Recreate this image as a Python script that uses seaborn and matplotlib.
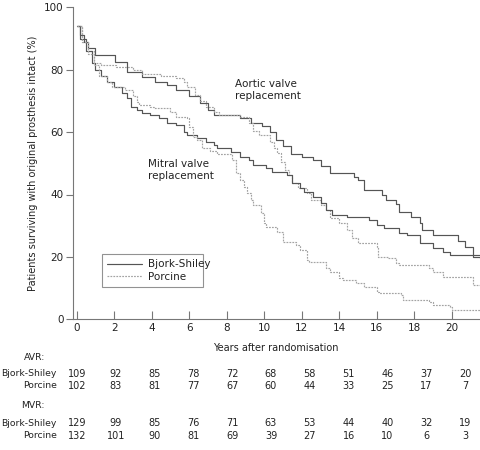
import pandas as pd
import matplotlib
matplotlib.use("Agg")
import matplotlib.pyplot as plt
import seaborn as sns

# Kaplan-Meier estimates: (years, % surviving with prosthesis intact)
avr_bs_t = [0, 0.2, 0.4, 0.6, 1.0, 2.05, 2.7, 3.5, 4.2, 4.8, 5.3, 6.0, 6.6, 7.0, 7.3, 8.7, 9.3,
            9.9, 10.3, 10.6, 11.0, 11.4, 12.0, 12.6, 13.0, 13.5, 14.8, 15.0, 15.3, 16.3, 16.5,
            17.0, 17.2, 17.8, 18.3, 18.4, 19.0, 20.3, 20.7, 21.1, 21.5]
avr_bs_s = [94, 91, 89, 87, 84.7, 82.5, 79.2, 77.6, 76, 75, 73.5, 71.5, 69.3, 67, 65.5, 64.5, 63,
            62, 60, 57.4, 55.5, 53, 52, 51, 49, 47, 45.6, 44.6, 41.4, 39.8, 38.2,
            37, 34.4, 32.8, 30.8, 28.6, 27, 25, 23.2, 20, 19.6]

avr_pc_t = [0, 0.3, 0.6, 0.9, 1.3, 2.1, 3.0, 3.5, 4.5, 5.3, 5.7, 5.9, 6.3, 6.6, 6.9, 7.3, 7.6,
            8.7, 9.2, 9.4, 9.7, 10.3, 10.5, 10.7, 10.9, 11.1, 11.3, 11.5, 11.8, 12.3, 12.5, 13.0,
            13.3, 13.5, 14.0, 14.4, 14.7, 15.0, 16.0, 16.05, 16.6, 17.0, 17.2, 18.8, 19.0, 19.5,
            21.1, 21.5]
avr_pc_s = [94, 89, 86, 82, 81.5, 80.8, 80, 78.5, 78, 77.5, 76, 74.5, 72, 70, 68, 66.5, 65.5,
            64.8, 63, 60.5, 59, 56.8, 55, 53.3, 50.5, 48, 46.3, 43.7, 42, 40.5, 38.2, 36.5,
            35, 32.5, 31, 28.6, 26, 24.6, 23.2, 20, 19.6, 18, 17.4, 16.4, 15.2, 13.6,
            11, 11]

mvr_bs_t = [0, 0.2, 0.5, 0.8, 1.0, 1.3, 1.6, 2.0, 2.4, 2.7, 2.9, 3.2, 3.5, 3.9, 4.4, 4.8, 5.3,
            5.7, 5.9, 6.4, 6.9, 7.3, 7.5, 8.2, 8.7, 9.2, 9.4, 10.1, 10.4, 11.2, 11.5, 11.9, 12.1,
            12.6, 13.0, 13.3, 13.6, 14.4, 15.6, 16.0, 16.4, 17.2, 17.6, 18.3, 19.0, 19.5, 19.9,
            21.5]
mvr_bs_s = [94, 90, 86, 82, 80, 78, 76, 74.5, 72.5, 71, 68, 67, 66, 65.5, 64.5, 63, 62.3,
            60, 59, 58, 56.8, 55.8, 55, 53.6, 52, 51, 49.5, 48.5, 47.2, 46.2, 43.7, 42.1, 40.8,
            39.2, 37.3, 35, 33.4, 32.8, 31.8, 30.2, 29.3, 27.6, 27, 24.4, 22.9, 21.6, 20.6,
            20.6]

mvr_pc_t = [0, 0.3, 0.6, 0.9, 1.2, 1.6, 1.9, 2.6, 3.0, 3.2, 3.3, 3.9, 4.1, 5.0, 5.3, 5.9, 6.0,
            6.2, 6.4, 6.7, 7.1, 7.5, 8.3, 8.5, 8.7, 8.9, 9.1, 9.3, 9.4, 9.8, 10.0, 10.1, 10.7,
            11.0, 11.7, 11.9, 12.3, 12.4, 13.3, 13.5, 14.0, 14.2, 14.9, 15.3, 16.0, 16.1, 17.3,
            17.4, 18.8, 19.0, 19.9, 20.0, 21.5]
mvr_pc_s = [94, 89, 85, 81.5, 78, 76, 74.4, 73.5, 71.5, 69.6, 68.7, 68, 67.7, 66.5, 65, 64.5, 61.5,
            58.4, 57.5, 55, 54, 53, 51, 47, 44.6, 42.4, 40.5, 38.2, 36.6, 34, 30.8, 29.6, 28,
            24.8, 23.8, 22.2, 19, 18.4, 16.4, 15.2, 13.2, 12.6, 11.6, 10.3, 8.8, 8.4, 7.8,
            6.2, 5.5, 4.6, 4, 3, 3]

# numbers at risk
risk_years = [0, 2, 4, 6, 8, 10, 12, 14, 16, 18, 20]
avr_bs_n = [109, 92, 85, 78, 72, 68, 58, 51, 46, 37, 20]
avr_pc_n = [102, 83, 81, 77, 67, 60, 44, 33, 25, 17, 7]
mvr_bs_n = [129, 99, 85, 76, 71, 63, 53, 44, 40, 32, 19]
mvr_pc_n = [132, 101, 90, 81, 69, 39, 27, 16, 10, 6, 3]

sns.set_style("ticks")
plt.rcParams["font.family"] = ["DejaVu Sans"]
plt.rcParams["font.size"] = 7

solid_col = "#555555"
dot_col = "#a3a3a3"
txt_col = "#222222"
axis_col = "#777777"

W, H = 481, 450
fig = plt.figure(figsize=(W / 100, H / 100), dpi=100)
ax = fig.add_axes([72.7 / W, 1 - 319.3 / H, (W - 72.7) / W, 312 / H])

series = [
    (avr_bs_t, avr_bs_s, solid_col, "-"),
    (avr_pc_t, avr_pc_s, dot_col, (0, (1.5, 1))),
    (mvr_bs_t, mvr_bs_s, solid_col, "-"),
    (mvr_pc_t, mvr_pc_s, dot_col, (0, (1.5, 1))),
]
for t, s, c, ls in series:
    df = pd.DataFrame({"t": t, "s": s})
    sns.lineplot(data=df, x="t", y="s", ax=ax, color=c, linestyle=ls, lw=0.85,
                 drawstyle="steps-post", estimator=None, sort=False)

ax.set_xlim(-0.21, 21.55)
ax.set_ylim(0, 100)
ax.set_xticks(risk_years)
ax.set_yticks([0, 20, 40, 60, 80, 100])
ax.tick_params(axis="x", direction="in", length=6, width=0.8, color=axis_col,
               labelcolor=txt_col, pad=3, labelsize=7.5)
ax.tick_params(axis="y", direction="out", length=5, width=0.8, color=axis_col,
               labelcolor=txt_col, pad=1.5, labelsize=7.5)
for side in ["top", "right"]:
    ax.spines[side].set_visible(False)
for side in ["left", "bottom"]:
    ax.spines[side].set_color(axis_col)
    ax.spines[side].set_linewidth(0.8)

ax.set_xlabel("Years after randomisation", color=txt_col)
ax.xaxis.set_label_coords(0.497, -0.075)
ax.set_ylabel("Patients surviving with original prosthesis intact (%)", color=txt_col)
ax.yaxis.set_label_coords(-0.085, 0.5)

ax.text(8.45, 73.5, "Aortic valve\nreplacement", ha="left", va="center",
        color=txt_col, linespacing=1.3, fontsize=7.5)
ax.text(3.8, 47.8, "Mitral valve\nreplacement", ha="left", va="center",
        color=txt_col, linespacing=1.3, fontsize=7.5)

h1, = ax.plot([], [], color=solid_col, lw=0.85, ls="-")
h2, = ax.plot([], [], color=dot_col, lw=0.85, ls=(0, (1.5, 1)))
leg = ax.legend([h1, h2], ["Bjork-Shiley", "Porcine"], loc="lower left",
                bbox_to_anchor=(0.072, 0.103, 0.247, 0.115), mode="expand",
                frameon=True, fancybox=False, borderaxespad=0, handlelength=3.3,
                handletextpad=0.6, borderpad=0.5, labelspacing=0.25, fontsize=7.5)
leg.get_frame().set_edgecolor(axis_col)
leg.get_frame().set_linewidth(0.8)
for t in leg.get_texts():
    t.set_color(txt_col)

# numbers at risk table
label_x = 57 / W
rows = [
    ("AVR:", None, 357),
    ("Bjork-Shiley", avr_bs_n, 374),
    ("Porcine", avr_pc_n, 386),
    ("MVR:", None, 405),
    ("Bjork-Shiley", mvr_bs_n, 423),
    ("Porcine", mvr_pc_n, 436),
]
for name, vals, py in rows:
    y = 1 - py / H
    lx = 45 / W if vals is None else label_x
    fig.text(lx, y, name, ha="right", va="center", color=txt_col, fontsize=6.7)
    if vals is not None:
        for i, v in enumerate(vals):
            fig.text((77 + 38.8 * i) / W, y, str(v), ha="center", va="center",
                     color=txt_col)

fig.savefig("out.png", dpi=100)
